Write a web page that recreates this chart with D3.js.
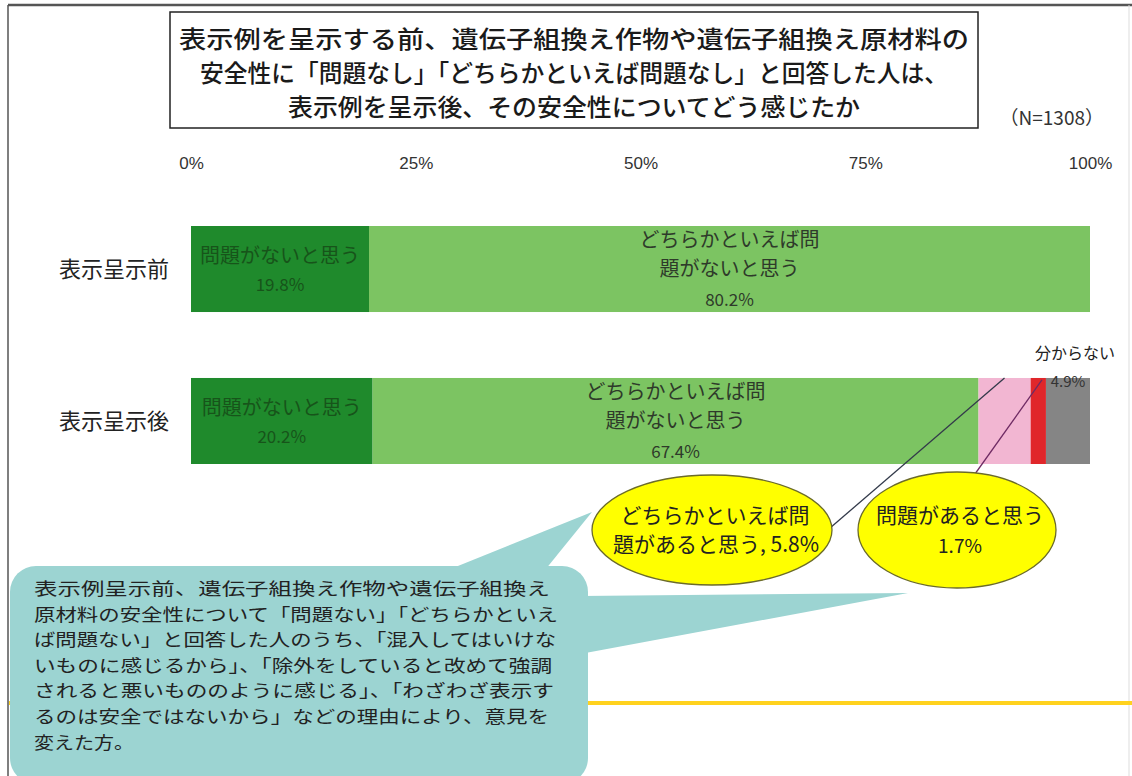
<!DOCTYPE html>
<html>
<head>
<meta charset="utf-8">
<script src="https://cdn.jsdelivr.net/npm/d3@7"></script>
<style>
  body { margin: 0; background: #fff; }
  svg { display: block; font-family: "Noto Sans CJK JP", "Noto Sans", sans-serif; }
</style>
</head>
<body>
<svg width="1132" height="776"></svg>
<script>
// data
var categories = ["表示呈示前", "表示呈示後"];
var seriesNames = ["問題がないと思う", "どちらかといえば問題がないと思う", "どちらかといえば問題があると思う", "問題があると思う", "分からない"];
var before = [19.8, 80.2, 0, 0, 0];
var after = [20.2, 67.4, 5.8, 1.7, 4.9];
var tickValues = [0, 25, 50, 75, 100];
var titleLines = [
  "表示例を呈示する前、遺伝子組換え作物や遺伝子組換え原材料の",
  "安全性に「問題なし」「どちらかといえば問題なし」と回答した人は、",
  "表示例を呈示後、その安全性についてどう感じたか"
];
var noteLines = [
  "表示例呈示前、遺伝子組換え作物や遺伝子組換え",
  "原材料の安全性について「問題ない」「どちらかといえ",
  "ば問題ない」と回答した人のうち、「混入してはいけな",
  "いものに感じるから」、「除外をしていると改めて強調",
  "されると悪いもののように感じる」、「わざわざ表示す",
  "るのは安全ではないから」などの理由により、意見を",
  "変えた方。"
];

var colors = ["#1f8a2c", "#7cc462", "#f2b6d2", "#e0262a", "#858585"];

var svg = d3.select("svg");

// outer frame
svg.append("line").attr("x1", 8).attr("y1", 5).attr("x2", 1132).attr("y2", 5)
  .attr("stroke", "#555").attr("stroke-width", 2.5);
svg.append("line").attr("x1", 8).attr("y1", 5).attr("x2", 8).attr("y2", 776)
  .attr("stroke", "#555").attr("stroke-width", 1.5);
svg.append("line").attr("x1", 1129).attr("y1", 5).attr("x2", 1129).attr("y2", 776)
  .attr("stroke", "#ddd").attr("stroke-width", 1);

// yellow divider (behind callout)
svg.append("line").attr("x1", 9).attr("y1", 703).attr("x2", 1132).attr("y2", 703)
  .attr("stroke", "#ffd21e").attr("stroke-width", 4);

// title box
svg.append("rect").attr("x", 170).attr("y", 12).attr("width", 808).attr("height", 116)
  .attr("fill", "#fff").attr("stroke", "#222").attr("stroke-width", 1.5);
svg.selectAll(".title").data(titleLines).enter().append("text")
  .attr("x", 574)
  .attr("y", function(d, i) { return 48 + i * 34; })
  .attr("text-anchor", "middle")
  .attr("font-size", 24)
  .attr("font-weight", 500)
  .attr("fill", "#1a1a1a")
  .attr("textLength", function(d, i) { return [790, 748, 572][i]; })
  .attr("lengthAdjust", "spacingAndGlyphs")
  .text(function(d) { return d; });

svg.append("text").attr("x", 1104).attr("y", 125).attr("text-anchor", "end")
  .attr("font-size", 19).attr("fill", "#333").text("（N=1308）");

// scales
var x = d3.scaleLinear().domain([0, 100]).range([191, 1090]);
var y = d3.scaleBand().domain(categories).range([226, 464]).paddingInner(0.434).paddingOuter(0);

var axis = d3.axisTop(x).tickValues(tickValues).tickSize(0).tickFormat(function(d) { return d + "%"; });
var ax = svg.append("g").attr("transform", "translate(0,172)").call(axis);
ax.select(".domain").remove();
ax.selectAll("text").attr("font-size", 17).attr("fill", "#333")
  .attr("font-family", "'Liberation Sans', 'Noto Sans CJK JP', sans-serif");

// rows
var rows = [before, after];
var stacked = rows.map(function(vals, r) {
  var acc = 0;
  return vals.map(function(v, i) {
    var d = { cat: categories[r], x0: acc, x1: acc + v, v: v, i: i };
    acc += v;
    return d;
  });
});

svg.selectAll(".rowlabel").data(categories).enter().append("text")
  .attr("x", 169)
  .attr("y", function(d) { return y(d) + y.bandwidth() / 2 + 8; })
  .attr("text-anchor", "end")
  .attr("font-size", 22)
  .attr("fill", "#222")
  .text(function(d) { return d; });

stacked.forEach(function(segs) {
  svg.selectAll(null).data(segs.filter(function(d) { return d.v > 0; })).enter().append("rect")
    .attr("x", function(d) { return x(d.x0); })
    .attr("y", function(d) { return y(d.cat); })
    .attr("width", function(d) { return x(d.x1) - x(d.x0); })
    .attr("height", y.bandwidth())
    .attr("fill", function(d) { return colors[d.i]; });
});

// labels inside bars
function fmt(v) { return v.toFixed(1) + "%"; }
stacked.forEach(function(segs) {
  var s0 = segs[0], s1 = segs[1];
  var top = y(s0.cat);
  var cx0 = (x(s0.x0) + x(s0.x1)) / 2;
  var g0 = svg.append("g").attr("fill", "#17541a").attr("font-size", 20).attr("text-anchor", "middle");
  g0.append("text").attr("x", cx0).attr("y", top + 37).text("問題がないと思う");
  g0.append("text").attr("x", cx0).attr("y", top + 65).attr("font-size", 17).text(fmt(s0.v));

  var cx1 = (x(s1.x0) + x(s1.x1)) / 2;
  var g1 = svg.append("g").attr("fill", "#2e3a2a").attr("font-size", 20).attr("text-anchor", "middle");
  g1.append("text").attr("x", cx1).attr("y", top + 21).text("どちらかといえば問");
  g1.append("text").attr("x", cx1).attr("y", top + 50).text("題がないと思う");
  g1.append("text").attr("x", cx1).attr("y", top + 80).attr("font-size", 17).text(fmt(s1.v));
});

var segs2 = stacked[1];
var barTop = y(categories[1]);

// 分からない label
var gray = segs2[4];
svg.append("text").attr("x", x((gray.x0 + gray.x1) / 2) + 7).attr("y", barTop - 19)
  .attr("text-anchor", "middle").attr("font-size", 16).attr("fill", "#222").text("分からない");
svg.append("text").attr("x", x((gray.x0 + gray.x1) / 2)).attr("y", barTop + 9)
  .attr("text-anchor", "middle").attr("font-size", 15).attr("fill", "#333").text(fmt(gray.v));

// callout (teal)
var teal = "#9cd4d2";
svg.append("path")
  .attr("d", "M448,570 L592,512 L545,570 Z")
  .attr("fill", teal);
svg.append("path")
  .attr("d", "M580,596 L908,593 L580,654 Z")
  .attr("fill", teal);
svg.append("rect").attr("x", 10).attr("y", 566).attr("width", 578).attr("height", 218)
  .attr("rx", 26).attr("fill", teal);
svg.selectAll(".note").data(noteLines).enter().append("text")
  .attr("x", 34)
  .attr("y", function(d, i) { return 595 + i * 25.6; })
  .attr("font-size", 17.6)
  .attr("fill", "#222")
  .attr("textLength", function(d, i) { return i < 6 ? [516, 524, 522, 518, 520, 515][i] : 100; })
  .attr("lengthAdjust", "spacingAndGlyphs")
  .text(function(d) { return d; });

// leader lines
var pink = segs2[2], red = segs2[3];
svg.append("line").attr("x1", 830).attr("y1", 528)
  .attr("x2", x(pink.x0) + 26).attr("y2", barTop)
  .attr("stroke", "#333a4a").attr("stroke-width", 1.3);
svg.append("line").attr("x1", 960).attr("y1", 495)
  .attr("x2", x(red.x1) - 4).attr("y2", barTop + 2)
  .attr("stroke", "#6e2a63").attr("stroke-width", 1.3);

// ellipses
var yel = "#ffff00";
svg.append("ellipse").attr("cx", 712).attr("cy", 530).attr("rx", 120).attr("ry", 55)
  .attr("fill", yel).attr("stroke", "#6b6b2a").attr("stroke-width", 1.3);
svg.append("ellipse").attr("cx", 957).attr("cy", 530).attr("rx", 99).attr("ry", 58)
  .attr("fill", yel).attr("stroke", "#6b6b2a").attr("stroke-width", 1.3);

var e1 = svg.append("g").attr("font-size", 21).attr("fill", "#222").attr("text-anchor", "middle");
e1.append("text").attr("x", 715).attr("y", 523).text("どちらかといえば問");
e1.append("text").attr("x", 716).attr("y", 552).text("題があると思う, " + fmt(pink.v));

var e2 = svg.append("g").attr("font-size", 21).attr("fill", "#222").attr("text-anchor", "middle");
e2.append("text").attr("x", 960).attr("y", 523).text("問題があると思う");
e2.append("text").attr("x", 960).attr("y", 553).attr("font-size", 19).text(fmt(red.v));
</script>
</body>
</html>
